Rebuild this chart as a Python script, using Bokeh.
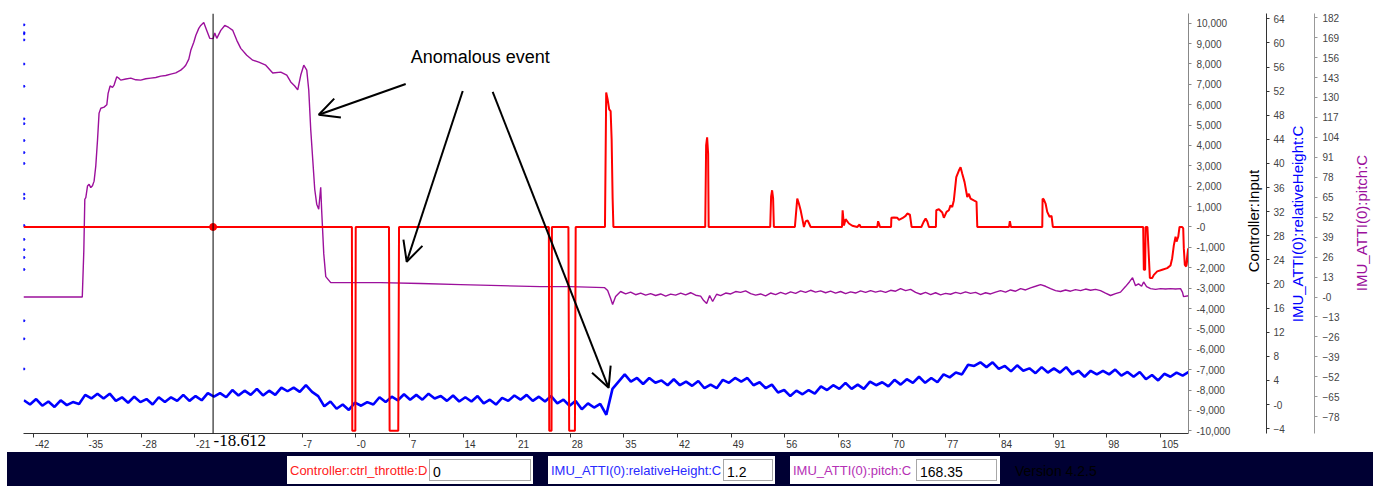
import math
from bokeh.plotting import figure
from bokeh.models import (Range1d, LinearAxis, FixedTicker, NumeralTickFormatter, Span,
                          Label, Arrow, OpenHead, Div)
from bokeh.layouts import column
from bokeh.embed import file_html
from bokeh.resources import INLINE

# ---------------- data ----------------
x_ticks = [-42, -35, -28, -21, -14, -7, 0, 7, 14, 21, 28, 35, 42, 49, 56, 63, 70, 77, 84, 91, 98, 105]
ctrl_ticks = [-10000, -9000, -8000, -7000, -6000, -5000, -4000, -3000, -2000, -1000, 0,
              1000, 2000, 3000, 4000, 5000, 6000, 7000, 8000, 9000, 10000]
height_ticks = [-4, 0, 4, 8, 12, 16, 20, 24, 28, 32, 36, 40, 44, 48, 52, 56, 60, 64]
pitch_ticks = [-78, -65, -52, -39, -26, -13, 0, 13, 26, 39, 52, 65, 78, 91, 104, 117, 130, 143, 156, 169, 182]

# Controller:ctrl_throttle:D  (time s, value)
throttle_t = [-43.35, -0.5, -0.45, -0.05, 0.0, 4.34, 4.42, 5.55, 5.65, 25.2, 25.25, 25.55, 25.6,
              27.75, 27.85, 28.6, 28.7, 32.52, 32.68, 32.87, 33.07, 33.26, 33.39, 33.52, 33.62,
              45.6, 45.72, 45.85, 45.98, 46.05, 54.08, 54.2, 54.33, 54.46, 54.56,
              57.3, 57.61, 57.82, 58.05, 58.27, 58.48, 58.7, 58.96, 59.22, 59.35,
              63.45, 63.53, 63.7, 63.92, 64.35, 64.79, 65.44, 65.74, 65.88,
              68.05, 68.16, 68.29, 68.4,
              69.85, 69.89, 70.23, 70.67, 70.88, 71.32, 71.75, 71.97, 72.31, 72.53,
              73.8, 74.1, 74.36, 74.58, 74.79,
              75.7, 75.75, 76.09, 76.53, 76.74, 77.09, 77.39, 77.61, 77.83, 78.04, 78.36, 78.7,
              78.92, 79.14, 79.44, 79.79, 80.0, 80.22, 80.65, 81.0, 81.1,
              85.24, 85.35, 85.5,
              89.58, 89.62, 89.79, 90.01, 90.23, 90.53, 90.79, 90.96,
              102.75, 102.83, 103.0, 103.07, 103.3, 103.62, 103.92, 104.14, 104.58, 105.23, 105.88,
              106.31, 106.53, 106.75, 106.97, 107.1, 107.32, 107.49, 107.84, 107.97, 108.05, 108.18,
              108.36, 108.49, 108.62, 108.7]
throttle_v = [0, 0, -10000, -10000, 0, 0, -10000, -10000, 0, 0, -10000, -10000, 0,
              0, -10000, -10000, 0, 0, 6600, 6260, 5770, 5680, 4310, 1390, 0,
              0, 4000, 4400, 3600, 0, 0, 1500, 1800, 1400, 0,
              0, 1390, 1150, 820, 410, 0, 270, 320, 120, 0,
              0, 820, 70, 380, 170, 60, 0, 120, 0,
              0, 280, 150, 0,
              0, 450, 470, 450, 350, 430, 545, 660, 600, 0,
              0, 250, 410, 270, 0,
              0, 820, 870, 710, 450, 740, 820, 1060, 980, 1300, 2450, 2770,
              2930, 2610, 2200, 1470, 1630, 1390, 1300, 1230, 0,
              0, 280, 0,
              0, 1390, 1340, 1150, 740, 500, 545, 0,
              0, -2100, -2100, 0, 0, -2500, -2500, -2350, -2180, -2100, -2020,
              -1890, -1530, -890, -480, -720, -480, 0, 0, -70, -1050, -1860,
              -1940, -1450, -1050, -1900]

# IMU_ATTI(0):pitch:C
pitch_t = [-43.35, -35.68, -35.48, -35.35, -35.22, -35.0, -34.79, -34.57, -34.35, -34.14, -33.92,
           -33.69, -33.49, -33.26, -32.83, -32.48, -32.31, -32.05, -31.74, -31.53, -31.18, -30.88, -30.66,
           -30.0, -29.35, -28.7, -28.05, -27.39, -26.74, -26.09, -25.44, -24.79, -24.13, -23.48, -22.83,
           -22.44, -22.18, -21.78, -21.52, -21.13, -20.87, -20.48, -20.22, -19.83, -19.44, -19.05, -18.61,
           -18.39, -18.13, -17.61, -17.09, -16.57, -16.04, -15.52, -15.0, -14.22, -13.44, -12.65, -11.74,
           -10.83, -9.78, -9.0, -8.48, -7.96, -7.57, -7.17, -6.78, -6.39, -6.13, -5.87, -5.61, -5.35,
           -5.09, -4.83, -4.57, -4.44, -4.17, -3.91, -3.26,
           3.26, 8.48, 13.7, 18.9, 24.1, 28.0, 32.48, 32.87, 33.26, 33.52, 33.91, 34.56,
           35.22, 35.87, 36.52, 37.18, 37.83, 38.48, 39.13, 39.79, 40.44, 41.09, 41.74, 42.4, 43.05,
           43.7, 44.35,
           45.0, 45.4, 45.79, 46.18, 46.57, 47.09, 47.61,
           48.27, 48.92, 49.57, 50.22, 50.87, 51.53, 52.18, 52.83, 53.48, 54.13, 54.79, 55.44, 56.09,
           56.74, 57.4, 58.05, 58.7, 59.35, 60.0, 60.66, 61.31, 61.96, 62.61, 63.27, 63.92, 64.57,
           65.22, 65.87, 66.53, 67.18, 67.83, 68.48, 69.14, 69.79, 70.44, 71.09, 71.75, 72.4,
           73.05, 73.7, 74.35, 75.01, 75.66, 76.31, 76.96, 77.61, 78.27, 78.92, 79.57, 80.22, 80.88,
           81.53, 82.18, 82.83, 83.49, 84.14, 84.79, 85.44, 86.1, 86.75, 87.4, 88.05, 88.7, 89.36,
           90.01, 90.66, 91.31, 91.96, 92.62, 93.27, 93.92, 94.57, 95.23, 95.88, 96.53, 97.18,
           97.83, 98.49, 99.14, 99.79, 100.44, 100.97, 101.36, 101.75, 102.14, 102.54, 102.8, 103.19,
           103.71, 104.36, 105.01, 105.66, 106.31, 106.97, 107.62, 107.88, 108.01, 108.66]
pitch_v = [0, 0, 30, 63.7, 64.8, 72.3, 73.4, 71.3, 72.5, 75.5, 85.3,
           102.5, 119.8, 123, 123.7, 125.2, 132.7, 137.5, 136.6, 138.1, 143.5, 142.4, 141.3,
           142.0, 142.6, 141.5, 141.3, 142.2, 142.6, 143.0, 143.9, 144.3, 145.2, 146.0, 147.8,
           149.5, 151, 155, 160.7, 166, 170.4, 175, 176.9, 178.8, 173.7, 168.5, 168.35,
           172, 168.5, 173.7, 176.9, 175.6, 173.7, 167.2, 162, 157.5, 154.3, 153, 151,
           145.9, 146.5, 144.6, 140.1, 137.5, 134.9, 144.6, 151, 147.8, 134.9, 109, 89.6, 70.2,
           60.5, 57.2, 71.5, 55.9, 28.1, 13.3, 9.4,
           9.4, 8.8, 8.1, 7.4, 6.8, 6.8, 6.1, 4.2, -1.0, -4.9, 0.3, 3.6,
           2.0, 3.2, 1.5, 2.6, 1.2, 2.2, 1.0, 2.0, 0.6, 1.9, 1.2, 2.6, 1.4,
           2.8, 1.2,
           0.6, -2.3, -4.2, 1.0, -2.9, 1.8, 0.9,
           2.6, 2.0, 3.6, 3.0, 4.0, 2.2, 1.2, 2.0, 0.8, 2.6, 1.6, 3.0, 1.9,
           3.4, 2.4, 4.0, 3.0, 4.4, 3.2, 4.0, 2.8, 3.8, 2.5, 3.6, 2.2, 3.4,
           2.6, 4.0, 3.0, 4.2, 3.2, 4.0, 3.0, 4.4, 3.8, 5.5, 4.2, 5.0,
           3.0, 1.8, 3.0, 1.6, 2.8, 1.4, 2.4, 1.8, 3.0, 2.2, 3.4, 2.4, 3.0,
           1.6, 2.8, 2.0, 3.2, 4.2, 3.2, 4.6, 3.8, 5.5, 4.6, 6.0, 7.0, 8.1,
           7.0, 5.5, 4.2, 3.6, 4.6, 3.8, 4.8, 4.2, 5.2, 4.4, 5.0, 4.2,
           2.6, 1.0, 2.2, 3.2, 6.8, 10.0, 12.6, 7.4, 8.6, 7.0, 9.8, 6.8,
           5.5, 5.0, 5.5, 5.2, 5.5, 5.2, 5.5, 3.0, 0.3, 0.8]

# IMU_ATTI(0):relativeHeight:C
height_t = [-43.3, -42.5, -41.7, -40.9, -40.1, -39.3, -38.5, -37.7, -36.9, -36.1, -35.3, -34.5, -33.7,
            -32.9, -32.1, -31.3, -30.5, -29.7, -28.9, -28.1, -27.3, -26.5, -25.7, -24.9, -24.1, -23.3,
            -22.5, -21.7, -20.9, -20.1, -19.3, -18.5, -17.7, -16.9, -16.1, -15.3, -14.5, -13.7, -12.9,
            -12.1, -11.3, -10.5, -9.7, -8.9, -8.1, -7.3, -6.5, -5.7, -4.9, -4.1, -3.3, -2.5, -1.7, -0.9,
            -0.1, 0.7, 1.5, 2.3, 3.1, 3.9, 4.7, 5.5, 6.3, 7.1, 7.9, 8.7, 9.5, 10.3, 11.1, 11.9, 12.7,
            13.5, 14.3, 15.1, 15.9, 16.7, 17.5, 18.3, 19.1, 19.9, 20.7, 21.5, 22.3, 23.1, 23.9, 24.7,
            25.5, 26.3, 27.1, 27.9, 28.7, 29.5, 30.3, 31.1, 31.9, 32.7, 33.5, 34.3, 35.1, 35.9, 36.7,
            37.5, 38.3, 39.1, 39.9, 40.7, 41.5, 42.3, 43.1, 43.9, 44.7, 45.5, 46.3, 47.1, 47.9, 48.7,
            49.5, 50.3, 51.1, 51.9, 52.7, 53.5, 54.3, 55.1, 55.9, 56.7, 57.5, 58.3, 59.1, 59.9, 60.7,
            61.5, 62.3, 63.1, 63.9, 64.7, 65.5, 66.3, 67.1, 67.9, 68.7, 69.5, 70.3, 71.1, 71.9, 72.7,
            73.5, 74.3, 75.1, 75.9, 76.7, 77.5, 78.3, 79.1, 79.9, 80.7, 81.5, 82.3, 83.1, 83.9, 84.7,
            85.5, 86.3, 87.1, 87.9, 88.7, 89.5, 90.3, 91.1, 91.9, 92.7, 93.5, 94.3, 95.1, 95.9, 96.7,
            97.5, 98.3, 99.1, 99.9, 100.7, 101.5, 102.3, 103.1, 103.9, 104.7, 105.5, 106.3, 107.1,
            107.9, 108.7]
height_v = [0.7, 0.0, 0.9, -0.2, 0.5, -0.4, 0.7, -0.1, 0.4, 0.1,
            1.6, 1.0, 1.8, 1.0, 1.8, 0.6, 1.2, 0.3, 1.3, 0.4,
            0.9, 0.0, 1.2, 0.4, 1.2, 0.6, 1.6, 0.6, 1.4, 0.7,
            1.9, 1.3, 1.9, 1.2, 2.4, 1.5, 2.3, 1.6, 2.6, 1.5,
            2.3, 1.6, 2.8, 2.2, 2.8, 2.1, 3.2, 2.1, 1.4, -0.3,
            0.5, -0.7, 0.0, -0.9, 0.3, -0.2, 0.4, 0.0, 1.2, 0.4,
            1.3, 0.7, 1.7, 0.8, 1.6, 0.8, 1.8, 1.0, 1.4, 0.6,
            1.5, 0.5, 1.2, 0.5, 1.4, 0.2, 0.8, 0.0, 1.1, 0.6,
            1.5, 0.8, 1.6, 0.6, 1.3, 0.5, 1.4, 0.2, 0.8, -0.2,
            0.6, -0.8, 0.2, -0.5, 0.1, -1.7, 2.6, 3.8, 5.0, 3.8,
            4.4, 3.4, 4.4, 3.6, 4.0, 3.2, 4.2, 3.2, 3.8, 3.1,
            3.9, 2.7, 3.3, 2.7, 4.1, 3.6, 4.4, 3.8, 4.4, 3.2,
            3.7, 2.7, 3.3, 2.0, 2.4, 1.4, 2.3, 1.7, 2.4, 1.8,
            3.0, 2.4, 3.2, 2.6, 3.6, 2.6, 3.3, 2.6, 3.8, 3.2,
            3.7, 3.0, 4.1, 3.3, 4.2, 3.6, 4.6, 3.6, 4.4, 3.7,
            5.0, 4.5, 5.3, 5.0, 6.6, 6.4, 7.0, 6.2, 7.0, 5.9,
            6.4, 5.5, 6.5, 5.6, 6.0, 5.2, 6.2, 5.3, 6.0, 5.3,
            6.2, 5.0, 5.6, 4.6, 5.6, 5.0, 5.6, 5.0, 5.8, 4.8,
            5.4, 4.6, 5.4, 4.2, 4.9, 4.0, 5.1, 4.6, 5.3, 4.8,
            5.4]

# stray blue points at the left edge (relativeHeight units)
edge_t = -43.3
edge_h = [63.0, 61.7, 61.5, 60.5, 56.5, 52.8, 47.4, 46.6, 43.8, 41.8, 40.0, 34.9, 34.2,
          29.7, 27.4, 25.7, 24.4, 22.4, 13.9, 10.9, 5.9]

# cursor read-out
cursor_t = -18.612
cursor_throttle = 0
cursor_height = 1.2
cursor_pitch = 168.35

# annotation (text position and arrows, in time / throttle units)
note_text = "Anomalous event"
note_pos = (7.17, 8330)
arrows = [((6.52, 7014), (-4.83, 5504)),
          ((13.96, 6673), (6.65, -1705)),
          ((17.87, 6624), (33.0, -7891))]

axis_titles = ["Controller:Input", "IMU_ATTI(0):relativeHeight:C", "IMU_ATTI(0):pitch:C"]

RED = "#ff0000"
BLUE = "#0000ff"
PURPLE = "#9c109c"
FONT = "Liberation Sans"
NBSP = "\u00a0"

# ---------------- layout constants ----------------
W, H_PLOT, H_BAR = 1375, 452, 34
B_LEFT, B_RIGHT, B_TOP, B_BOTTOM = 23, 187, 13, 16
X0, X1 = -43.35, 108.66

# ---------------- figure ----------------
p = figure(width=W, height=H_PLOT, x_range=Range1d(X0, X1),
           y_range=Range1d(-10131, 10472), y_axis_location="right",
           output_backend="svg", toolbar_location=None,
           min_border_left=B_LEFT, min_border_right=B_RIGHT,
           min_border_top=B_TOP, min_border_bottom=B_BOTTOM)
p.outline_line_color = None
p.grid.visible = False
p.background_fill_color = "white"
p.border_fill_color = "white"
p.extra_y_ranges = {"h": Range1d(-4.81, 64.88), "p": Range1d(-88.9, 184.7)}


def x_label(v):
    s = "-0" if v == 0 else str(v)
    w = sum(3.33 if c == "-" else 5.56 for c in s)      # approx. text width at 10px
    return NBSP * int(round((w + 2) / 2.78)) + s        # left-align label at its tick


# x axis
xa = p.xaxis[0]
xa.ticker = FixedTicker(ticks=x_ticks)
xa.major_label_overrides = {v: x_label(v) for v in x_ticks}
xa.minor_tick_line_color = None
xa.major_tick_out = 4
xa.major_tick_in = 0
xa.major_label_standoff = 1
xa.axis_line_color = "#333333"
xa.major_tick_line_color = "#333333"
xa.major_label_text_font = FONT
xa.major_label_text_font_size = "10px"
xa.major_label_text_color = "#333333"


def style_y(ax, ticks, line_col, std_lbl, std_title):
    ax.ticker = FixedTicker(ticks=ticks)
    ax.major_label_overrides = {0: "-0"}
    ax.minor_tick_line_color = None
    ax.major_tick_out = 3
    ax.major_tick_in = 0
    ax.axis_line_color = line_col
    ax.major_tick_line_color = line_col
    ax.major_label_standoff = std_lbl
    ax.major_label_text_font = FONT
    ax.major_label_text_font_size = "10px"
    ax.major_label_text_color = "#444444"
    # spacer for the axis title (title text itself is drawn in the overlay)
    ax.axis_label = " "
    ax.axis_label_text_font_size = "15px"
    ax.axis_label_standoff = std_title


ya = p.yaxis[0]
ya.formatter = NumeralTickFormatter(format="0,0")
style_y(ya, ctrl_ticks, "#888888", 5, 13)

yh = LinearAxis(y_range_name="h")
style_y(yh, height_ticks, "#333333", 4, 7)
p.add_layout(yh, "right")

yp = LinearAxis(y_range_name="p")
style_y(yp, pitch_ticks, "#999999", 5, 5)
p.add_layout(yp, "right")

# series
p.line(x=height_t, y=height_v, y_range_name="h", line_color=BLUE, line_width=2.6)
p.scatter(x=[edge_t] * len(edge_h), y=edge_h, y_range_name="h", size=2, color=BLUE)
p.line(x=pitch_t, y=pitch_v, y_range_name="p", line_color=PURPLE, line_width=1.4)
p.line(x=throttle_t, y=throttle_v, line_color=RED, line_width=2)

# cursor
p.add_layout(Span(location=cursor_t, dimension="height", line_color="black", line_width=1))
p.scatter(x=[cursor_t], y=[cursor_throttle], size=7, color=RED)

# annotation
p.add_layout(Label(x=note_pos[0], y=note_pos[1], text=note_text, text_font=FONT,
                   text_font_size="18px", text_baseline="middle", text_align="left",
                   text_color="#000000"))
for (xs, ys), (xe, ye) in arrows:
    p.add_layout(Arrow(end=OpenHead(size=20, line_width=2, line_color="black"),
                       x_start=xs, y_start=ys, x_end=xe, y_end=ye,
                       line_width=2, line_color="black"))

# ---------------- overlay: axis titles, cursor read-out, status bar ----------------
frame_w = W - B_LEFT - B_RIGHT
cursor_px = B_LEFT + (cursor_t - X0) * frame_w / (X1 - X0)


def vtitle(text, color, cx, cy):
    return (f'<div style="position:absolute;left:{cx - 170}px;top:{cy - H_PLOT - 10}px;width:340px;'
            f'height:20px;line-height:20px;text-align:center;transform:rotate(-90deg);'
            f'transform-origin:50% 50%;white-space:nowrap;font-family:\'{FONT}\';font-size:15px;'
            f'color:{color};">{text}</div>')


def box(left, width, label, color, field_left, field_width, val):
    return (f'<div style="position:absolute;left:{left}px;top:4px;width:{width}px;height:28px;background:#ffffff;">'
            f'<span style="position:absolute;left:3px;top:6px;color:{color};white-space:nowrap;">{label}</span>'
            f'<div style="position:absolute;left:{field_left}px;top:3px;width:{field_width}px;height:22px;'
            f'box-sizing:border-box;border:1px solid #a8a8a8;background:#ffffff;">'
            f'<span style="position:absolute;left:3px;top:2px;color:#000;font-size:14px;">{val}</span></div></div>')


bar_html = (
    f'<div style="position:relative;width:{W}px;height:{H_BAR}px;">'
    + vtitle(axis_titles[0], "#000000", 1254, 221)
    + vtitle(axis_titles[1], BLUE, 1298, 224)
    + vtitle(axis_titles[2], PURPLE, 1362, 223)
    + f'<div style="position:absolute;left:{cursor_px - 0.5:.1f}px;top:-15px;width:56px;height:16px;background:#ffffff;"></div>'
    + f'<div style="position:absolute;left:{cursor_px + 1:.1f}px;top:-20px;line-height:17px;font-family:\'Liberation Serif\';'
      f'font-size:17px;color:#000;white-space:nowrap;">{cursor_t:.3f}</div>'
    + '<div style="position:absolute;left:7px;top:0px;width:1366px;height:34px;background:#000033;'
      f'font-family:\'{FONT}\',Arial,sans-serif;font-size:13px;overflow:hidden;">'
    + box(280, 246, "Controller:ctrl_throttle:D", "#ff2020", 142, 102, f"{cursor_throttle}")
    + box(541, 227, "IMU_ATTI(0):relativeHeight:C", "#2a2aff", 175, 50, f"{cursor_height}")
    + box(783, 210, "IMU_ATTI(0):pitch:C", "#b530b5", 126, 81, f"{cursor_pitch}")
    + '<span style="position:absolute;left:1008px;top:9px;color:#000000;font-size:14px;">Version 4.2.5</span>'
    + '</div></div>'
)
bar = Div(text=bar_html, width=W, height=H_BAR, margin=0, styles={"overflow": "visible"})

layout = column(p, bar, spacing=0)
open("out.html", "w").write(file_html(layout, INLINE))
